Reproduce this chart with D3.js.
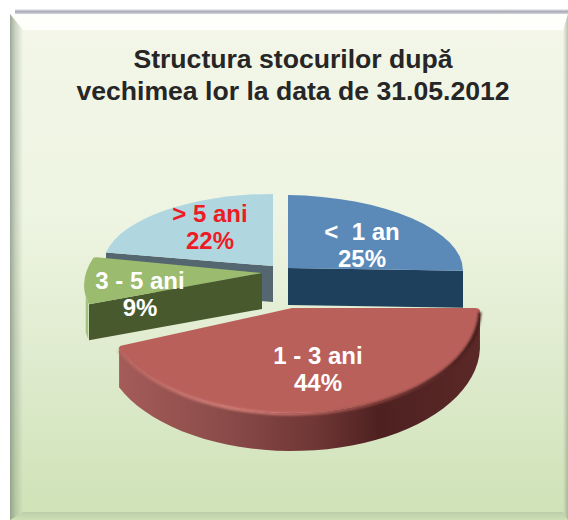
<!DOCTYPE html>
<html>
<head>
<meta charset="utf-8">
<script src="https://cdn.jsdelivr.net/npm/d3@7"></script>
<style>
  html, body { margin: 0; padding: 0; background: #fff; }
  svg { display: block; }
  text { font-family: "Liberation Sans", Arial, sans-serif; font-weight: bold; white-space: pre; }
</style>
</head>
<body>
<div class="chart"></div>
<script>
// Chart data
var categories = ["<  1 an", "1 - 3 ani", "3 - 5 ani", "> 5 ani"];
var values = [25, 44, 9, 22];
var titleLines = ["Structura stocurilor după", "vechimea lor la data de 31.05.2012"];

// Look of each slice (same order as categories)
var topColors = ["#5b8ab8", "#ba605b", "#9bbb6e", "#b0d6e0"];
var faceColors = ["#1f405c", "#5a2827", "#49592e", "#54666f"];
var labelColors = ["#fff", "#fff", "#fff", "#ed1c24"];

// Exploded, perspective placement of each slice
// shear and tilt fake the camera angle the original 3D pie was drawn with
var sliceLayout = [
  { cx: 288, cy: 268, rx: 175, ry: 73, depth: 37, shear: 0, tilt: 0.015, corner: 0, wallSpan: 0 },
  { cx: 292, cy: 308, rx: 188, ry: 105, depth: 38, shear: 0, tilt: 0, corner: 5, wallSpan: 3 },
  { cx: 262, cy: 273, rx: 176, ry: 85, depth: 36, shear: -0.3, tilt: 0, corner: 3, wallSpan: 0.1 },
  { cx: 273, cy: 266, rx: 170, ry: 72, depth: 36, shear: 0, tilt: 0, corner: 0, wallSpan: 0 }
];
var labelLayout = [
  { x: 362, y: 240 },
  { x: 318, y: 364 },
  { x: 140, y: 289 },
  { x: 210, y: 222 }
];
var drawOrder = [3, 2, 0, 1];

var svgWidth = 568;
var svgHeight = 520;

var svg = d3.select(".chart")
  .append("svg")
  .attr("width", svgWidth)
  .attr("height", svgHeight);

var defs = svg.append("defs");

function addGradient(id, attrs, stops) {
  var g = defs.append("linearGradient").attr("id", id);
  Object.keys(attrs).forEach(function(k) { g.attr(k, attrs[k]); });
  stops.forEach(function(s) {
    g.append("stop")
      .attr("offset", s[0])
      .attr("stop-color", s[1])
      .attr("stop-opacity", s[2] === undefined ? 1 : s[2]);
  });
}

addGradient("panelFill", { x1: 0, y1: 0, x2: 0, y2: 1 },
  [[0, "#f3f6e8"], [0.4, "#eef4e2"], [0.75, "#dbe9c9"], [1, "#cfe2b6"]]);
addGradient("leftBevel", { x1: 0, y1: 0, x2: 1, y2: 0 },
  [[0, "#7f8f7c", 0.75], [0.4, "#7f8f7c", 0.35], [1, "#7f8f7c", 0]]);
addGradient("rightBevel", { x1: 0, y1: 0, x2: 1, y2: 0 },
  [[0, "#7f8f7c", 0], [1, "#7f8f7c", 0.5]]);
addGradient("bottomBevel", { x1: 0, y1: 0, x2: 0, y2: 1 },
  [[0, "#7f8f7c", 0.25], [1, "#7f8f7c", 0.02]]);
addGradient("topShadow", { x1: 0, y1: 0, x2: 0, y2: 1 },
  [[0, "#a0a2b0", 0.1], [0.5, "#a0a2b0", 0.9], [1, "#c8c9d0", 0.8]]);
addGradient("redWall", { gradientUnits: "userSpaceOnUse", x1: 118, y1: 0, x2: 480, y2: 0 },
  [[0, "#a55c59"], [0.3, "#8a4b49"], [0.55, "#6e3634"], [0.72, "#4e2121"], [1, "#5a2827"]]);
addGradient("redEdge", { gradientUnits: "userSpaceOnUse", x1: 118, y1: 0, x2: 480, y2: 0 },
  [[0, "#b3625e"], [0.3, "#d57f79"], [0.5, "#c46c67"], [0.72, "#8a413e"], [1, "#3f1a19"]]);

defs.append("filter").attr("id", "soft")
  .attr("x", "-5%").attr("y", "-5%").attr("width", "110%").attr("height", "110%")
  .append("feGaussianBlur").attr("stdDeviation", 0.9);

// Panel with bevelled border
var panel = svg.append("g");

panel.append("rect")
  .attr("x", 15).attr("y", 9).attr("width", 553).attr("height", 5)
  .attr("fill", "url(#topShadow)");
panel.append("rect")
  .attr("x", 10).attr("y", 14).attr("width", 558).attr("height", 506)
  .attr("fill", "url(#panelFill)");
panel.append("path").attr("d", "M10,14L568,14L563,30L23,30Z").attr("fill", "#fefffa");
panel.append("path").attr("d", "M10,14L23,30L23,512L10,520Z").attr("fill", "url(#leftBevel)");
panel.append("path").attr("d", "M568,14L563,30L563,512L568,520Z").attr("fill", "url(#rightBevel)");
panel.append("path").attr("d", "M10,520L23,512L563,512L568,520Z").attr("fill", "url(#bottomBevel)");

// Title
svg.selectAll(".title")
  .data(titleLines)
  .enter()
  .append("text")
  .attr("class", "title")
  .attr("x", 293)
  .attr("y", (d, i) => 68 + i * 32)
  .attr("text-anchor", "middle")
  .attr("font-size", "26.6px")
  .attr("fill", "#262626")
  .text(d => d);

// Slices
var pie = d3.pie().sort(null).value(d => d);
var arcs = pie(values);
var arcGen = d3.arc().innerRadius(0).outerRadius(d => d.outerRadius).cornerRadius(d => d.corner);

// point on a slice's ellipse; d3.pie angles run clockwise from 12 o'clock
function rimPoint(s, a, dy) {
  var ox = s.rx * Math.sin(a);
  var oy = -s.ry * Math.cos(a);
  return [s.cx + ox + s.shear * oy, s.cy + oy + s.tilt * ox + dy];
}

function angleSteps(a0, a1) {
  return d3.range(0, 41).map(i => a0 + (a1 - a0) * i / 40);
}

var line = d3.line();

drawOrder.forEach(function(i) {
  var s = sliceLayout[i];
  var a = arcs[i];
  var g = svg.append("g").attr("class", "slice");

  // outer wall, only the part that shows from the viewer's side
  if (s.wallSpan > 0) {
    var inset = s.corner / s.rx;
    var wall0 = a.startAngle + inset;
    var wall1 = Math.min(a.endAngle - inset, a.startAngle + s.wallSpan);
    var steps = angleSteps(wall0, wall1);
    var pts = steps.map(t => rimPoint(s, t, 0))
      .concat(steps.slice().reverse().map(t => rimPoint(s, t, s.depth)));
    g.append("path")
      .attr("d", line(pts) + "Z")
      .attr("fill", i == 1 ? "url(#redWall)" : "#a3c27e");
  }

  // cut faces seen from the front: the one of the blue slice at its end,
  // the ones of the green and light blue slices at their start
  var faceAngle = i == 0 ? a.endAngle : a.startAngle;
  if (i != 1) {
    var p = rimPoint(s, faceAngle, 0);
    var q = rimPoint(s, faceAngle, s.depth);
    g.append("path")
      .attr("d", line([[s.cx, s.cy], p, q, [s.cx, s.cy + s.depth]]) + "Z")
      .attr("fill", faceColors[i]);
  }

  // top surface
  var k = s.ry / s.rx;
  g.append("path")
    .attr("transform", `matrix(1,${s.tilt},${s.shear * k},${k},${s.cx},${s.cy})`)
    .attr("d", arcGen({ startAngle: a.startAngle, endAngle: a.endAngle, outerRadius: s.rx, corner: s.corner }))
    .attr("fill", topColors[i]);

  // soft rounded edge of the big slice
  if (i == 1) {
    g.append("path")
      .attr("d", line(angleSteps(a.startAngle + 0.03, a.endAngle - 0.03).map(t => rimPoint(s, t, 1))))
      .attr("fill", "none")
      .attr("stroke", "url(#redEdge)")
      .attr("stroke-width", 3)
      .attr("filter", "url(#soft)");
  }
});

// Labels
var labels = svg.selectAll(".label")
  .data(categories)
  .enter()
  .append("g")
  .attr("class", "label")
  .attr("fill", (d, i) => labelColors[i])
  .attr("font-size", "24px")
  .attr("text-anchor", "middle");

labels.append("text")
  .attr("x", (d, i) => labelLayout[i].x)
  .attr("y", (d, i) => labelLayout[i].y)
  .text(d => d);

labels.append("text")
  .attr("x", (d, i) => labelLayout[i].x)
  .attr("y", (d, i) => labelLayout[i].y + 27)
  .text((d, i) => values[i] + "%");
</script>
</body>
</html>
